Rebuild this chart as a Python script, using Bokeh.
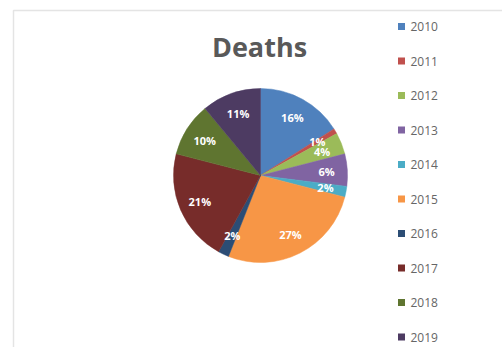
import math
from bokeh.plotting import figure
from bokeh.models import Range1d, ColumnDataSource
from bokeh.core.properties import value
from bokeh.embed import file_html
from bokeh.resources import INLINE

years = ["2010", "2011", "2012", "2013", "2014", "2015", "2016", "2017", "2018", "2019"]
shares = [16, 1, 4, 6, 2, 27, 2, 21, 10, 11]
colors = ["#4F81BD", "#C0504D", "#9BBB59", "#8064A2", "#4BACC6",
          "#F79646", "#2C4D75", "#772C2A", "#5F7530", "#4D3B62"]
title_text = "Deaths"

W, H = 502, 347
p = figure(width=W, height=H, x_range=Range1d(0, W), y_range=Range1d(0, H),
           output_backend="svg", toolbar_location=None, min_border=0)
p.axis.visible = False
p.grid.visible = False
p.outline_line_color = None
p.background_fill_color = "#ffffff"
p.border_fill_color = "#ffffff"

# faint chart-area frame
p.quad(left=[13], right=[520], top=[H - 10], bottom=[-20],
       fill_color=None, line_color="#e4e4e4", line_width=1.5)

cx, cy, R = 260, H - 175, 87
total = float(sum(shares))
starts, ends, lx, ly, labels = [], [], [], [], []
cum = 0.0
for s in shares:
    a0 = cum / total * 2 * math.pi
    cum += s
    a1 = cum / total * 2 * math.pi
    starts.append(math.pi / 2 - a1)
    ends.append(math.pi / 2 - a0)
    mid = (a0 + a1) / 2
    lx.append(cx + 0.76 * R * math.sin(mid))
    ly.append(cy + 0.76 * R * math.cos(mid))
    labels.append(f"{round(s / total * 100)}%")

src = ColumnDataSource(dict(start=starts, end=ends, color=colors,
                            lx=lx, ly=ly, label=labels))
p.wedge(x=cx, y=cy, radius=R, start_angle="start", end_angle="end",
        fill_color="color", line_color="color", line_width=0.5, source=src)
p.text(x="lx", y="ly", text="label", source=src, text_color="#ffffff",
       text_font=value("Open Sans"), text_font_style="bold", text_font_size="11px",
       text_align="center", text_baseline="middle")

# title
p.text(x=[259], y=[H - 46], text=[title_text], text_color="#595959",
       text_font=value("Open Sans"), text_font_style="bold", text_font_size="27px",
       text_align="center", text_baseline="middle")

# legend
ly0, dy = 26, 34.5
leg_y = [H - (ly0 + i * dy) for i in range(len(years))]
p.rect(x=[401] * len(years), y=leg_y, width=7, height=7, fill_color=colors,
       line_color=None)
p.text(x=[410] * len(years), y=leg_y, text=years, text_color="#666666",
       text_font=value("Open Sans"), text_font_size="12px",
       text_align="left", text_baseline="middle")

open("out.html", "w").write(file_html(p, INLINE))
